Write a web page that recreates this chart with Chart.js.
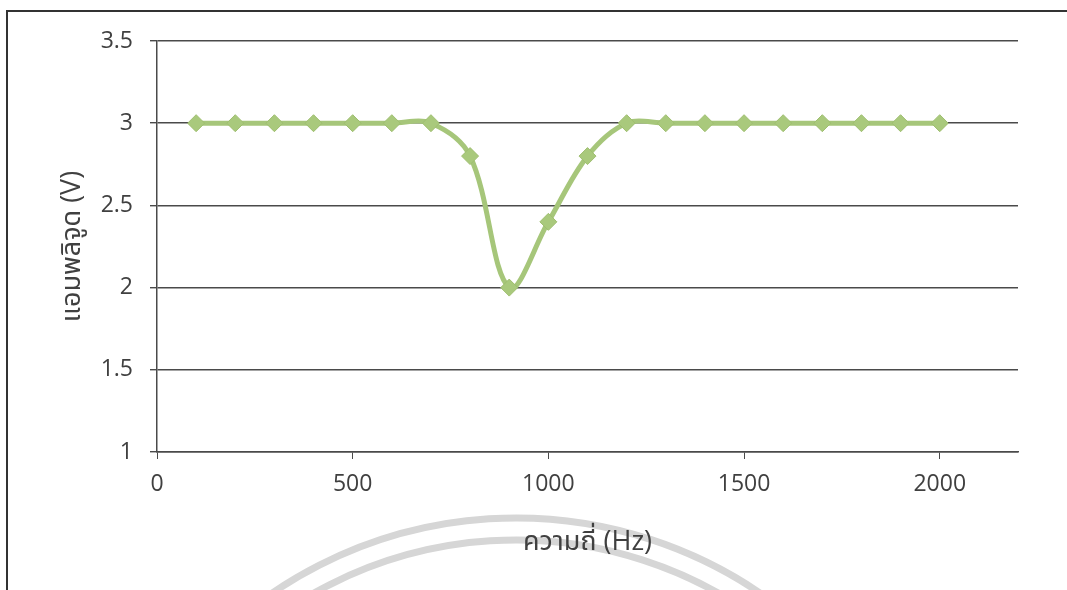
<!DOCTYPE html>
<html lang="th">
<head>
    <meta charset="UTF-8">
    <title>Amplitude vs Frequency</title>
    <script src="https://cdn.jsdelivr.net/npm/chart.js"></script>
    <style>
        body {
            margin: 0;
            background: #ffffff;
        }
        #wrap {
            width: 1067px;
            height: 590px;
        }
    </style>
</head>
<body>
<div id="wrap">
    <canvas id="ampChart" width="1067" height="590"></canvas>
</div>

<script>
    // data
    const frequencies = [100, 200, 300, 400, 500, 600, 700, 800, 900, 1000,
                         1100, 1200, 1300, 1400, 1500, 1600, 1700, 1800, 1900, 2000];
    const amplitudes = [3, 3, 3, 3, 3, 3, 3, 2.8, 2.0, 2.4,
                        2.8, 3, 3, 3, 3, 3, 3, 3, 3, 3];
    const xTickValues = [0, 500, 1000, 1500, 2000];
    const yTickValues = [1, 1.5, 2, 2.5, 3, 3.5];

    const xTitle = 'ความถี่ (Hz)';
    const yTitle = 'แอมพลิจูด (V)';

    const fontFamily = "'Open Sans', 'Noto Sans', 'Noto Sans Thai', 'Loma', sans-serif";

    // page frame and faint watermark arcs behind the chart
    const backdrop = {
        id: 'backdrop',
        beforeDraw(chart) {
            const c = chart.ctx;
            c.save();
            c.fillStyle = '#ffffff';
            c.fillRect(0, 0, chart.width, chart.height);

            c.strokeStyle = '#d6d6d6';
            c.lineWidth = 7;
            [433, 411].forEach(r => {
                c.beginPath();
                c.arc(516, 951, r, Math.PI * 1.1, Math.PI * 1.9);
                c.stroke();
            });

            c.strokeStyle = '#333333';
            c.lineWidth = 2;
            c.beginPath();
            c.moveTo(7, chart.height);
            c.lineTo(7, 11);
            c.lineTo(chart.width, 11);
            c.stroke();
            c.restore();
        }
    };

    const ctx = document.getElementById('ampChart').getContext('2d');
    const ampChart = new Chart(ctx, {
        type: 'line',
        data: {
            datasets: [{
                data: frequencies.map((f, i) => ({ x: f, y: amplitudes[i] })),
                borderColor: '#a6c67a',
                borderWidth: 5,
                backgroundColor: '#a9c97c',
                pointStyle: 'rectRot',
                pointRadius: 8.5,
                pointBorderColor: '#9fbf70',
                pointBorderWidth: 1,
                tension: 0.35,
                fill: false
            }]
        },
        options: {
            responsive: false,
            animation: false,
            layout: {
                padding: { top: 41, right: 49, left: 0, bottom: 0 }
            },
            plugins: {
                legend: { display: false },
                tooltip: { enabled: false }
            },
            scales: {
                x: {
                    type: 'linear',
                    min: 0,
                    max: 2200,
                    afterBuildTicks: s => { s.ticks = xTickValues.map(v => ({ value: v })); },
                    afterFit: s => { s.height = 138; },
                    grid: {
                        drawOnChartArea: false,
                        drawTicks: true,
                        tickLength: 7,
                        color: '#4a4a4a'
                    },
                    border: { color: '#4a4a4a', width: 1.5 },
                    ticks: {
                        padding: 12,
                        color: '#404040',
                        callback: v => String(v),
                        font: { family: fontFamily, size: 23 }
                    },
                    title: {
                        display: true,
                        text: xTitle,
                        color: '#404040',
                        padding: { top: 0, bottom: 31 },
                        font: { family: fontFamily, size: 27 }
                    }
                },
                y: {
                    type: 'linear',
                    min: 1,
                    max: 3.5,
                    afterBuildTicks: s => { s.ticks = yTickValues.map(v => ({ value: v })); },
                    afterFit: s => { s.width = 157; },
                    grid: {
                        drawTicks: true,
                        tickLength: 7,
                        color: '#4a4a4a',
                        lineWidth: 1.4
                    },
                    border: { color: '#4a4a4a', width: 1.5 },
                    ticks: {
                        padding: 17,
                        color: '#404040',
                        callback: v => String(v),
                        font: { family: fontFamily, size: 23 }
                    },
                    title: {
                        display: true,
                        text: yTitle,
                        color: '#404040',
                        padding: { top: 56, bottom: 0 },
                        font: { family: fontFamily, size: 27 }
                    }
                }
            }
        },
        plugins: [backdrop]
    });
</script>
</body>
</html>
